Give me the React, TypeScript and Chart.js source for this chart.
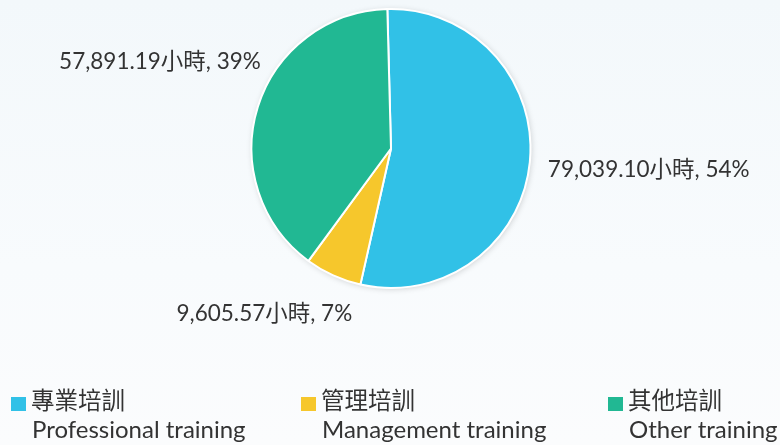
import React, { useEffect, useRef } from "react";
import { Chart, registerables } from "chart.js";

Chart.register(...registerables);

const categoriesZh = ["專業培訓", "管理培訓", "其他培訓"];
const categoriesEn = ["Professional training", "Management training", "Other training"];
const hours = [79039.1, 9605.57, 57891.19];
const percentLabels = ["54%", "7%", "39%"];
const hourLabels = ["79,039.10", "9,605.57", "57,891.19"];
const colors = ["#31C1E7", "#F6C72C", "#21B893"];

const FONT = "Lato, 'Noto Sans CJK TC', sans-serif";
const TEXT = "#333333";

// label placement relative to the arc's outer edge at the mid angle
const labelOffsets = [
  { dx: 18, dy: 8, align: "left" },
  { dx: 19, dy: 38, align: "right" },
  { dx: 3, dy: -45, align: "right" },
];
const legendX = [11, 301, 608];

const labelPlugin = {
  id: "sliceLabels",
  beforeDatasetsDraw(chart: any) {
    const ctx = chart.ctx;
    const meta = chart.getDatasetMeta(0);
    ctx.save();
    ctx.shadowColor = "rgba(0,0,0,0.18)";
    ctx.shadowBlur = 6;
    ctx.shadowOffsetX = 1;
    ctx.shadowOffsetY = 1;
    const a = meta.data[0];
    ctx.beginPath();
    ctx.arc(a.x, a.y, a.outerRadius, 0, Math.PI * 2);
    ctx.fillStyle = "#ffffff";
    ctx.fill();
    ctx.restore();
  },
  afterDatasetsDraw(chart: any) {
    const ctx = chart.ctx;
    const meta = chart.getDatasetMeta(0);
    ctx.save();
    ctx.font = `22.5px ${FONT}`;
    ctx.fillStyle = TEXT;
    ctx.textBaseline = "middle";
    meta.data.forEach((arc: any, i: number) => {
      const mid = (arc.startAngle + arc.endAngle) / 2;
      const r = arc.outerRadius;
      const x = arc.x + Math.cos(mid) * r;
      const y = arc.y + Math.sin(mid) * r;
      const o = labelOffsets[i];
      const text = `${hourLabels[i]}小時, ${percentLabels[i]}`;
      ctx.textAlign = o.align;
      ctx.fillText(text, x + o.dx, y + o.dy);
    });
    ctx.restore();
  },
  afterDraw(chart: any) {
    const ctx = chart.ctx;
    ctx.save();
    ctx.textBaseline = "alphabetic";
    ctx.textAlign = "left";
    categoriesZh.forEach((zh, i) => {
      const x = legendX[i];
      ctx.fillStyle = colors[i];
      ctx.fillRect(x, 397, 15, 14);
      ctx.fillStyle = TEXT;
      ctx.font = `23.5px ${FONT}`;
      ctx.fillText(zh, x + 20, 409);
      ctx.font = `24px ${FONT}`;
      ctx.fillText(categoriesEn[i], x + 21, 438);
    });
    ctx.restore();
  },
};

export default function App() {
  const ref = useRef<HTMLCanvasElement>(null);
  useEffect(() => {
    document.body.style.margin = "0";
    const chart = new Chart(ref.current!, {
      type: "pie",
      data: {
        labels: categoriesZh,
        datasets: [
          {
            data: hours,
            backgroundColor: colors,
            borderColor: "#ffffff",
            borderWidth: 2,
          },
        ],
      },
      options: {
        animation: false,
        responsive: false,
        rotation: -1.5,
        layout: { padding: { top: 8, bottom: 156, left: 2, right: 0 } },
        plugins: {
          legend: { display: false },
          tooltip: { enabled: false },
        },
      },
      plugins: [labelPlugin],
    });
    return () => chart.destroy();
  }, []);
  return (
    <div
      style={{
        width: 780,
        height: 445,
        background: "linear-gradient(180deg, #f3f8fb 0%, #f8fbfd 60%, #fbfcfd 100%)",
      }}
    >
      <canvas ref={ref} width={780} height={445} />
    </div>
  );
}
